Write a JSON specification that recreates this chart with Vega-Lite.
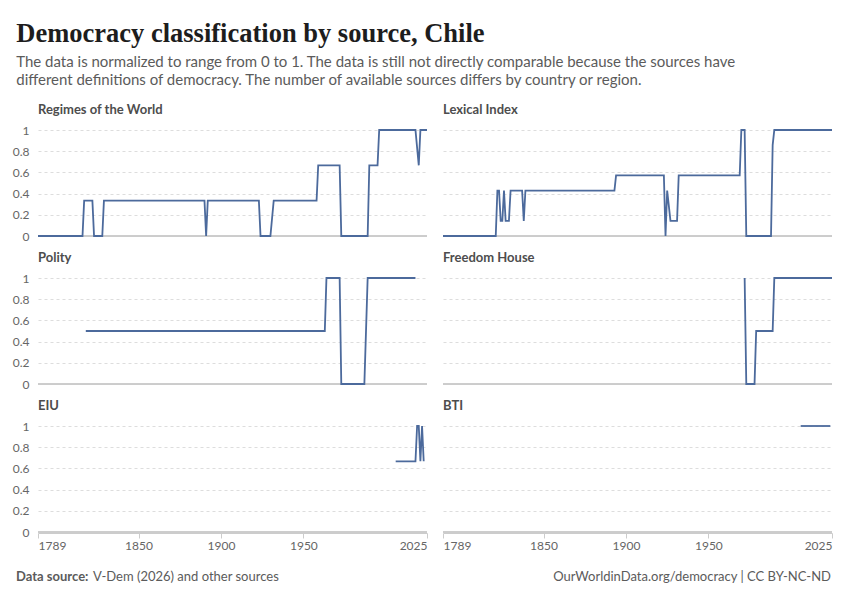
{
  "$schema": "https://vega.github.io/schema/vega-lite/v6.json",
  "padding": {"left": 12, "top": 20, "right": 18, "bottom": 10},
  "title": {
    "text": "Democracy classification by source, Chile",
    "subtitle": [
      "The data is normalized to range from 0 to 1. The data is still not directly comparable because the sources have",
      "different definitions of democracy. The number of available sources differs by country or region."
    ],
    "anchor": "start",
    "dx": 4,
    "font": "Liberation Serif",
    "fontSize": 26.5,
    "fontWeight": "bold",
    "color": "#1d1d1d",
    "subtitleFont": "Lato",
    "subtitleFontSize": 15,
    "subtitleColor": "#5b5b5b",
    "subtitleLineHeight": 18,
    "subtitlePadding": 8,
    "offset": 16
  },
  "vconcat": [
    {
      "data": {
        "values": [
          {"source": "Regimes of the World", "year": 1789, "value": 0},
          {"source": "Regimes of the World", "year": 1816, "value": 0},
          {"source": "Regimes of the World", "year": 1817, "value": 0.333},
          {"source": "Regimes of the World", "year": 1822, "value": 0.333},
          {"source": "Regimes of the World", "year": 1823, "value": 0},
          {"source": "Regimes of the World", "year": 1828, "value": 0},
          {"source": "Regimes of the World", "year": 1829, "value": 0.333},
          {"source": "Regimes of the World", "year": 1890, "value": 0.333},
          {"source": "Regimes of the World", "year": 1891, "value": 0},
          {"source": "Regimes of the World", "year": 1892, "value": 0.333},
          {"source": "Regimes of the World", "year": 1923, "value": 0.333},
          {"source": "Regimes of the World", "year": 1924, "value": 0},
          {"source": "Regimes of the World", "year": 1930, "value": 0},
          {"source": "Regimes of the World", "year": 1932, "value": 0.333},
          {"source": "Regimes of the World", "year": 1958, "value": 0.333},
          {"source": "Regimes of the World", "year": 1959, "value": 0.667},
          {"source": "Regimes of the World", "year": 1972, "value": 0.667},
          {"source": "Regimes of the World", "year": 1973, "value": 0},
          {"source": "Regimes of the World", "year": 1989, "value": 0},
          {"source": "Regimes of the World", "year": 1990, "value": 0.667},
          {"source": "Regimes of the World", "year": 1995, "value": 0.667},
          {"source": "Regimes of the World", "year": 1996, "value": 1},
          {"source": "Regimes of the World", "year": 2018, "value": 1},
          {"source": "Regimes of the World", "year": 2020, "value": 0.667},
          {"source": "Regimes of the World", "year": 2021, "value": 1},
          {"source": "Regimes of the World", "year": 2025, "value": 1},
          {"source": "Lexical Index", "year": 1789, "value": 0},
          {"source": "Lexical Index", "year": 1821, "value": 0},
          {"source": "Lexical Index", "year": 1822, "value": 0.429},
          {"source": "Lexical Index", "year": 1823, "value": 0.429},
          {"source": "Lexical Index", "year": 1824, "value": 0.143},
          {"source": "Lexical Index", "year": 1825, "value": 0.143},
          {"source": "Lexical Index", "year": 1826, "value": 0.429},
          {"source": "Lexical Index", "year": 1827, "value": 0.143},
          {"source": "Lexical Index", "year": 1829, "value": 0.143},
          {"source": "Lexical Index", "year": 1830, "value": 0.429},
          {"source": "Lexical Index", "year": 1837, "value": 0.429},
          {"source": "Lexical Index", "year": 1838, "value": 0.143},
          {"source": "Lexical Index", "year": 1839, "value": 0.429},
          {"source": "Lexical Index", "year": 1893, "value": 0.429},
          {"source": "Lexical Index", "year": 1894, "value": 0.571},
          {"source": "Lexical Index", "year": 1923, "value": 0.571},
          {"source": "Lexical Index", "year": 1924, "value": 0},
          {"source": "Lexical Index", "year": 1925, "value": 0.429},
          {"source": "Lexical Index", "year": 1927, "value": 0.143},
          {"source": "Lexical Index", "year": 1931, "value": 0.143},
          {"source": "Lexical Index", "year": 1932, "value": 0.571},
          {"source": "Lexical Index", "year": 1969, "value": 0.571},
          {"source": "Lexical Index", "year": 1970, "value": 1},
          {"source": "Lexical Index", "year": 1972, "value": 1},
          {"source": "Lexical Index", "year": 1973, "value": 0},
          {"source": "Lexical Index", "year": 1988, "value": 0},
          {"source": "Lexical Index", "year": 1989, "value": 0.857},
          {"source": "Lexical Index", "year": 1990, "value": 1},
          {"source": "Lexical Index", "year": 2025, "value": 1},
          {"source": "Polity", "year": 1818, "value": 0.5},
          {"source": "Polity", "year": 1963, "value": 0.5},
          {"source": "Polity", "year": 1964, "value": 1},
          {"source": "Polity", "year": 1972, "value": 1},
          {"source": "Polity", "year": 1973, "value": 0},
          {"source": "Polity", "year": 1987, "value": 0},
          {"source": "Polity", "year": 1989, "value": 1},
          {"source": "Polity", "year": 2018, "value": 1},
          {"source": "Freedom House", "year": 1972, "value": 1},
          {"source": "Freedom House", "year": 1973, "value": 0},
          {"source": "Freedom House", "year": 1978, "value": 0},
          {"source": "Freedom House", "year": 1979, "value": 0.5},
          {"source": "Freedom House", "year": 1989, "value": 0.5},
          {"source": "Freedom House", "year": 1990, "value": 1},
          {"source": "Freedom House", "year": 2025, "value": 1},
          {"source": "EIU", "year": 2006, "value": 0.667},
          {"source": "EIU", "year": 2008, "value": 0.667},
          {"source": "EIU", "year": 2010, "value": 0.667},
          {"source": "EIU", "year": 2012, "value": 0.667},
          {"source": "EIU", "year": 2014, "value": 0.667},
          {"source": "EIU", "year": 2016, "value": 0.667},
          {"source": "EIU", "year": 2018, "value": 0.667},
          {"source": "EIU", "year": 2019, "value": 1},
          {"source": "EIU", "year": 2020, "value": 1},
          {"source": "EIU", "year": 2021, "value": 0.667},
          {"source": "EIU", "year": 2022, "value": 1},
          {"source": "EIU", "year": 2023, "value": 0.667},
          {"source": "BTI", "year": 2006, "value": 1},
          {"source": "BTI", "year": 2008, "value": 1},
          {"source": "BTI", "year": 2010, "value": 1},
          {"source": "BTI", "year": 2012, "value": 1},
          {"source": "BTI", "year": 2014, "value": 1},
          {"source": "BTI", "year": 2016, "value": 1},
          {"source": "BTI", "year": 2018, "value": 1},
          {"source": "BTI", "year": 2020, "value": 1},
          {"source": "BTI", "year": 2022, "value": 1},
          {"source": "BTI", "year": 2024, "value": 1}
        ]
      },
      "facet": {
        "field": "source",
        "type": "nominal",
        "title": null,
        "sort": ["Regimes of the World", "Lexical Index", "Polity", "Freedom House", "EIU", "BTI"],
        "header": {
          "labelAnchor": "start",
          "labelFont": "Lato",
          "labelFontSize": 13,
          "labelFontWeight": "bold",
          "labelColor": "#4d4d4d",
          "labelPadding": 9
        }
      },
      "columns": 2,
      "spacing": {"row": 12, "column": 8},
      "spec": {
        "width": 389,
        "height": 106,
        "layer": [
          {
            "mark": {"type": "rule", "color": "#cccccc", "strokeWidth": 1},
            "encoding": {
              "y": {
                "datum": 0,
                "type": "quantitative",
                "scale": {"domain": [0, 1], "nice": false},
                "axis": {
                  "values": [0, 0.2, 0.4, 0.6, 0.8, 1],
                  "format": "~g",
                  "title": null,
                  "grid": true,
                  "domain": false,
                  "ticks": false,
                  "tickSize": 0,
                  "labelOverlap": false,
                  "labelPadding": 5,
                  "minExtent": 17,
                  "maxExtent": 17,
                  "gridDash": [3, 3],
                  "gridColor": "#dddddd",
                  "gridWidth": 1
                }
              }
            }
          },
          {
            "mark": {"type": "line", "color": "#4c6a9c", "strokeWidth": 1.8},
            "encoding": {
              "x": {
                "field": "year",
                "type": "quantitative",
                "scale": {"domain": [1789, 2025], "nice": false, "zero": false},
                "axis": {
                  "values": [1789, 1850, 1900, 1950, 2025],
                  "format": "d",
                  "title": null,
                  "grid": false,
                  "labelFlush": true,
                  "domainColor": "#cccccc",
                  "tickColor": "#cccccc",
                  "tickSize": 5,
                  "labelPadding": 2
                }
              },
              "y": {
                "field": "value",
                "type": "quantitative",
                "scale": {"domain": [0, 1], "nice": false},
                "axis": {
                  "values": [0, 0.2, 0.4, 0.6, 0.8, 1],
                  "format": "~g",
                  "title": null,
                  "grid": true,
                  "domain": false,
                  "ticks": false,
                  "tickSize": 0,
                  "labelOverlap": false,
                  "labelPadding": 5,
                  "minExtent": 17,
                  "maxExtent": 17,
                  "gridDash": [3, 3],
                  "gridColor": "#dddddd",
                  "gridWidth": 1
                }
              }
            }
          }
        ]
      }
    },
    {
      "spacing": 16,
      "hconcat": [
        {
          "spacing": 4,
          "hconcat": [
            {
              "width": 0,
              "height": 1,
              "data": {"values": []},
              "mark": "point",
              "encoding": {},
              "title": {"text": "Data source:", "anchor": "start", "dx": -22, "font": "Lato", "fontSize": 13, "fontWeight": "bold", "color": "#5b5b5b"}
            },
            {
              "width": 0,
              "height": 1,
              "data": {"values": []},
              "mark": "point",
              "encoding": {},
              "title": {"text": "V-Dem (2026) and other sources", "anchor": "start", "dx": -22, "font": "Lato", "fontSize": 13, "fontWeight": "normal", "color": "#5b5b5b"}
            }
          ]
        },
        {
          "width": 535,
          "height": 1,
          "data": {"values": []},
          "mark": "point",
          "encoding": {},
          "title": {"text": "OurWorldinData.org/democracy | CC BY-NC-ND", "anchor": "end", "font": "Lato", "fontSize": 13, "fontWeight": "normal", "color": "#5b5b5b"}
        }
      ]
    }
  ],
  "spacing": 20,
  "config": {
    "font": "Lato",
    "view": {"stroke": null},
    "axis": {"labelFont": "Lato", "labelFontSize": 12, "labelColor": "#666666"}
  }
}
